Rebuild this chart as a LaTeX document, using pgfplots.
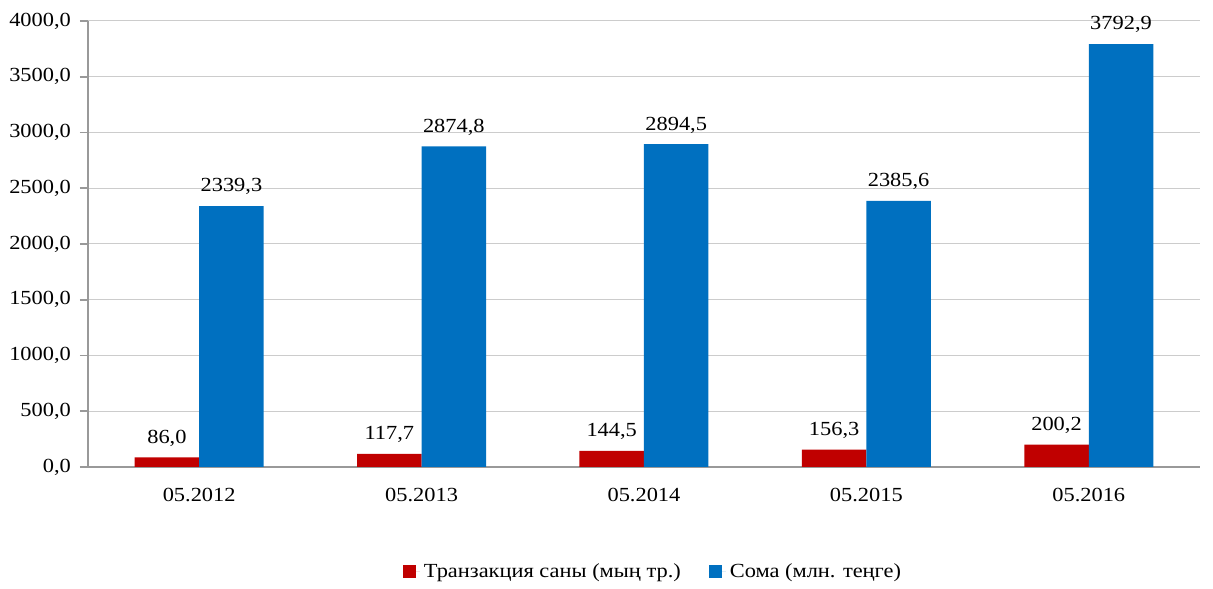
\documentclass[border=0pt]{standalone}
\usepackage{fontspec}
\setmainfont{Liberation Serif}[FakeStretch=1.12]
\usepackage{pgfplots}
\pgfplotsset{compat=1.18}
\definecolor{cred}{HTML}{C00000}
\definecolor{cblue}{HTML}{0070C0}
\pgfplotsset{/pgf/number format/.cd, use comma, fixed, fixed zerofill, precision=1, 1000 sep={}, assume math mode=true}
\begin{document}
\begin{tikzpicture}
\begin{axis}[
  scale only axis, width=556pt, height=223pt,
  xmin=-0.5, xmax=4.5, ymin=0, ymax=4000,
  ytick distance=500,
  axis lines=left,
  axis line style={-, draw=gray!80, line width=0.8pt},
  xtick={0,1,2,3,4},
  xticklabels={05.2012,05.2013,05.2014,05.2015,05.2016},
  major x tick style={draw=none},
  extra x ticks={-0.5,0.5,1.5,2.5,3.5,4.5},
  extra x tick labels={},
  extra x tick style={major tick length=4pt, tick style={draw=gray!80, line width=0.8pt}},
  ymajorgrids,
  grid style={gray!40, line width=0.5pt},
  tick align=outside,
  major tick length=4pt,
  y tick style={draw=gray!80, line width=0.8pt},
  tick label style={font=\fontsize{10}{12}\selectfont},
  yticklabel style={xshift=-1pt},
  xticklabel style={yshift=-3pt},
  ybar,
  bar width=0.29,
  nodes near coords,
  every node near coord/.append style={font=\fontsize{10}{12}\selectfont, yshift=2pt},
  clip=false,
  legend style={at={(0.509,-0.235)}, anchor=center, draw=none, fill=none,
    legend columns=2, font=\fontsize{10}{12}\selectfont,
    /tikz/every even column/.append style={column sep=12pt}},
  legend image code/.code={\fill[#1,draw=none] (0pt,-3pt) rectangle (6.5pt,3.5pt);\path (0pt,0pt) -- (8.5pt,0pt);},
]
\addplot[fill=cred, draw=none, bar shift=-0.145] coordinates {(0,86.0) (1,117.7) (2,144.5) (3,156.3) (4,200.2)};
\addplot[fill=cblue, draw=none, bar shift=0.145] coordinates {(0,2339.3) (1,2874.8) (2,2894.5) (3,2385.6) (4,3792.9)};
\legend{Транзакция саны (мың тр.), Сома (млн. теңге)}
\path (rel axis cs:-0.0791,-0.2556) rectangle (rel axis cs:1.0117,1.047);
\end{axis}
\end{tikzpicture}
\end{document}
